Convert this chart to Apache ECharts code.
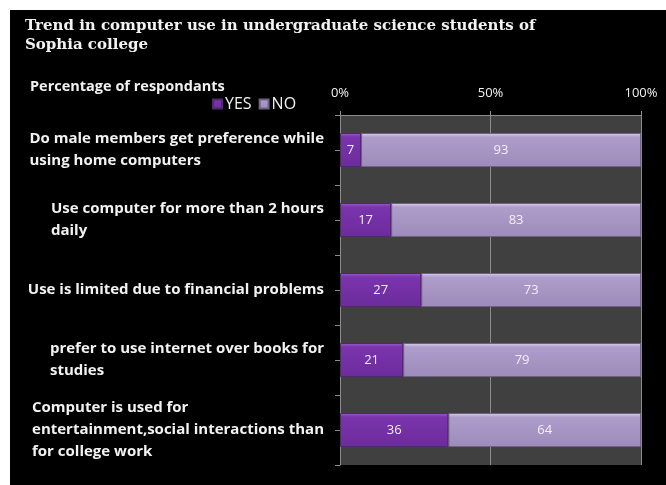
<!DOCTYPE html>
<html>
<head>
<meta charset="utf-8">
<script src="https://cdn.jsdelivr.net/npm/echarts@6/dist/echarts.min.js"></script>
<style>
html,body{margin:0;padding:0;background:#ffffff;}
#chart{position:absolute;left:10px;top:10px;width:656px;height:475px;}
</style>
</head>
<body>
<div id="chart"></div>
<script>
var titleText = 'Trend in computer use in undergraduate science students of\nSophia college';
var yAxisTitle = 'Percentage of respondants';
var categories = [
  'Do male members get preference while\nusing home computers',
  'Use computer for more than 2 hours\ndaily',
  'Use is limited due to financial problems',
  'prefer to use internet over books for\nstudies',
  'Computer is used for\nentertainment,social interactions than\nfor college work'
];
var seriesNames = ['YES', 'NO'];
var yesValues = [7, 17, 27, 21, 36];
var noValues = [93, 83, 73, 79, 64];
var xTickValues = [0, 50, 100];

var chart = echarts.init(document.getElementById('chart'), null, {renderer: 'canvas'});
var labelFont = '"Open Sans", sans-serif';
var txt = '#f2f2f2';
var gridColor = '#8c8c8c';
var lblSize = 15;

function grad(top, mid, bot) {
  return new echarts.graphic.LinearGradient(0, 0, 0, 1, [
    {offset: 0, color: top},
    {offset: 0.12, color: mid},
    {offset: 1, color: bot}
  ]);
}

chart.setOption({
  backgroundColor: '#000000',
  animation: false,
  title: [
    {
      text: titleText, left: 10, top: 2,
      textStyle: {color: txt, fontFamily: '"DejaVu Serif", serif', fontWeight: 'bold', fontSize: 15, lineHeight: 19}
    },
    {
      text: yAxisTitle, left: 15, top: 64,
      textStyle: {color: txt, fontFamily: labelFont, fontWeight: 'bold', fontSize: 14.5}
    }
  ],
  legend: {
    data: seriesNames, left: 197, top: 81, icon: 'rect', itemWidth: 9, itemHeight: 9, itemGap: 7,
    textStyle: {color: txt, fontFamily: labelFont, fontSize: 16, padding: [0, 0, 0, -2]}
  },
  grid: {
    left: 330, top: 105, width: 301, height: 350,
    show: true, backgroundColor: '#404040', borderWidth: 0
  },
  xAxis: {
    type: 'value', position: 'top', min: 0, max: 100, interval: 50,
    axisLine: {show: true, lineStyle: {color: gridColor}},
    axisTick: {show: true, length: 4, lineStyle: {color: gridColor}},
    axisLabel: {color: txt, fontFamily: labelFont, fontSize: 13, margin: 15,
      formatter: function (v) { return xTickValues.indexOf(v) >= 0 ? v + '%' : ''; }},
    splitLine: {show: true, lineStyle: {color: gridColor, width: 1}}
  },
  yAxis: [
    {
      type: 'category', inverse: true, data: categories,
      axisLine: {show: false}, axisTick: {show: false},
      axisLabel: {
        margin: 16, color: txt, fontFamily: labelFont, fontWeight: 'bold', fontSize: lblSize, lineHeight: 22,
        formatter: function (v) {
          return v.split('\n').map(function (s) { return '{l|' + s + '}'; }).join('\n');
        },
        rich: {l: {align: 'left', color: txt, fontFamily: labelFont, fontWeight: 'bold', fontSize: lblSize, lineHeight: 22}}
      }
    },
    {
      type: 'value', position: 'left', inverse: true, min: 0, max: 10, interval: 1,
      axisLine: {show: true, lineStyle: {color: gridColor}},
      axisTick: {show: true, length: 5, lineStyle: {color: gridColor}},
      axisLabel: {show: false}, splitLine: {show: false}
    }
  ],
  series: [
    {
      name: 'YES', type: 'bar', stack: 'total', yAxisIndex: 0, data: yesValues, barWidth: 34,
      itemStyle: {color: grad('#9a5cd0', '#7a34ac', '#6c2c9c'), borderColor: '#4e2a66', borderWidth: 1},
      label: {show: true, position: 'inside', color: '#f4eefa', fontFamily: labelFont, fontSize: 13}
    },
    {
      name: 'NO', type: 'bar', stack: 'total', yAxisIndex: 0, data: noValues, barWidth: 34,
      itemStyle: {color: grad('#ddd0ee', '#ae9dcb', '#9d8bbb'), borderColor: '#6e6280', borderWidth: 1},
      label: {show: true, position: 'inside', color: '#f4eefa', fontFamily: labelFont, fontSize: 13}
    }
  ]
});
</script>
</body>
</html>
